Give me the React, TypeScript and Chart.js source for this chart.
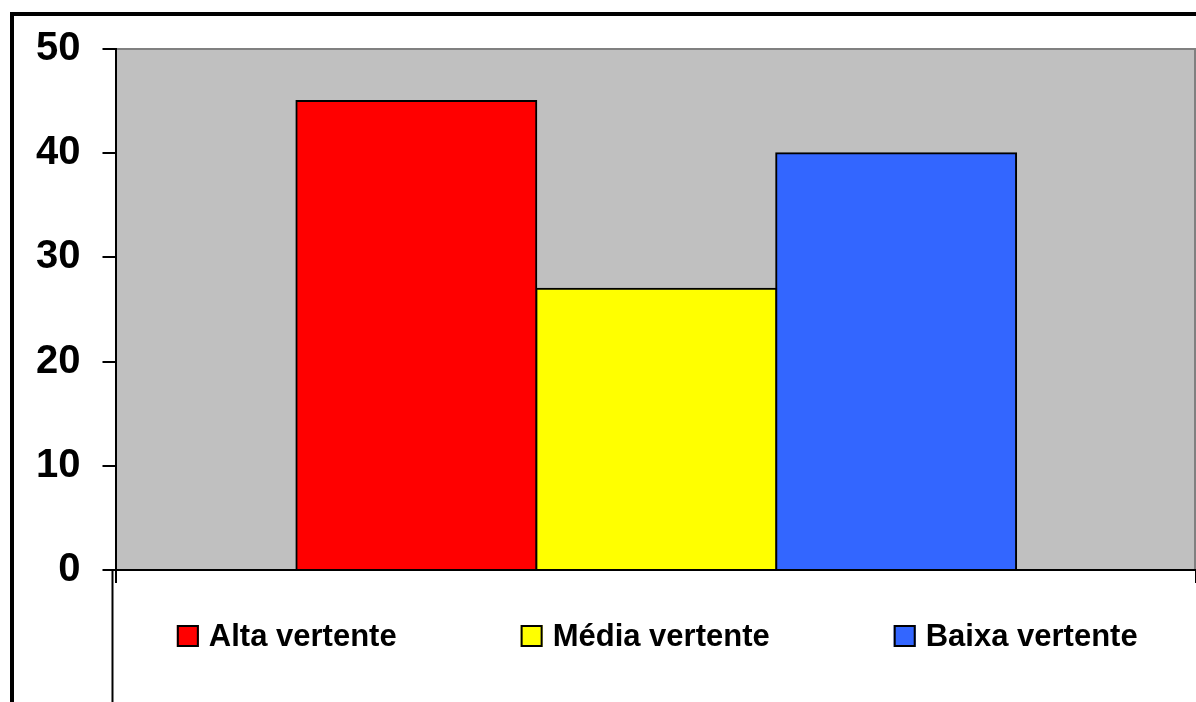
import React, { useEffect, useRef } from "react";
import { Chart, registerables } from "chart.js";

Chart.register(...registerables);

// Share of sampled area per slope position
const categories = [""];
const seriesNames = ["Alta vertente", "Média vertente", "Baixa vertente"];
const seriesValues = [[45], [27], [40]];
const seriesColors = ["#FF0000", "#FFFF00", "#3366FF"];
const yTicks = [0, 10, 20, 30, 40, 50];

const FONT = "'Liberation Sans', Arial, sans-serif";

// Grey plot background, frame of the whole figure, legend box edge
const framePlugin = {
  id: "frame",
  beforeDraw(chart: any) {
    const { ctx, chartArea: a, width, height } = chart;
    ctx.save();
    ctx.fillStyle = "#FFFFFF";
    ctx.fillRect(0, 0, width, height);
    ctx.fillStyle = "#C0C0C0";
    ctx.fillRect(a.left, a.top, a.right - a.left, a.bottom - a.top);
    ctx.strokeStyle = "#808080";
    ctx.lineWidth = 2;
    ctx.beginPath();
    ctx.moveTo(a.left, a.top);
    ctx.lineTo(a.right - 1, a.top);
    ctx.lineTo(a.right - 1, a.bottom);
    ctx.stroke();
    // outer figure frame (opens past right and bottom edges)
    ctx.strokeStyle = "#000000";
    ctx.lineWidth = 4;
    ctx.beginPath();
    ctx.moveTo(12, height + 10);
    ctx.lineTo(12, 14);
    ctx.lineTo(width + 10, 14);
    ctx.stroke();
    // legend box left edge
    ctx.lineWidth = 2;
    ctx.beginPath();
    ctx.moveTo(a.left - 4, a.bottom);
    ctx.lineTo(a.left - 4, height + 10);
    ctx.stroke();
    ctx.restore();
  },
};

// Legend row drawn below the x axis, items spaced evenly
const legendPlugin = {
  id: "bottomLegend",
  afterDraw(chart: any) {
    const { ctx, chartArea: a, width } = chart;
    const box = 22;
    const boxGap = 10;
    const itemGap = 124;
    ctx.save();
    ctx.font = `bold 31px ${FONT}`;
    ctx.textBaseline = "middle";
    const items = chart.data.datasets.map((ds: any) => ({
      label: ds.label,
      color: ds.backgroundColor,
      w: box + boxGap + ctx.measureText(ds.label).width,
    }));
    const total =
      items.reduce((s: number, it: any) => s + it.w, 0) + itemGap * (items.length - 1);
    const left = a.left - 4;
    let x = left + (width - left - total) / 2 + 3;
    const cy = a.bottom + 66;
    items.forEach((it: any) => {
      ctx.fillStyle = it.color;
      ctx.fillRect(x, cy - box / 2, box, box);
      ctx.strokeStyle = "#000000";
      ctx.lineWidth = 2;
      ctx.strokeRect(x + 1, cy - box / 2 + 1, box - 2, box - 2);
      ctx.fillStyle = "#000000";
      ctx.fillText(it.label, x + box + boxGap, cy + 1);
      x += it.w + itemGap;
    });
    ctx.restore();
  },
};

export default function App() {
  const ref = useRef<HTMLCanvasElement>(null);

  useEffect(() => {
    document.body.style.margin = "0";
    const chart = new Chart(ref.current!, {
      type: "bar",
      data: {
        labels: categories,
        datasets: seriesNames.map((name, i) => ({
          label: name,
          data: seriesValues[i],
          backgroundColor: seriesColors[i],
          borderColor: "#000000",
          borderWidth: 2,
          inflateAmount: 1,
          categoryPercentage: 0.6667,
          barPercentage: 1,
        })),
      },
      options: {
        animation: false,
        responsive: false,
        devicePixelRatio: 1,
        layout: { padding: { left: 14, top: 49, right: 0, bottom: 119 } },
        plugins: {
          legend: { display: false },
          tooltip: { enabled: false },
        },
        scales: {
          x: {
            offset: true,
            grid: {
              display: true,
              drawOnChartArea: false,
              drawTicks: true,
              tickLength: 13,
              color: "#000000",
              lineWidth: 2,
              offset: true,
            },
            border: { display: true, color: "#000000", width: 2 },
            ticks: { display: false },
          },
          y: {
            min: 0,
            max: 50,
            afterBuildTicks: (scale: any) => {
              scale.ticks = yTicks.map((v) => ({ value: v }));
            },
            ticks: {
              color: "#000000",
              padding: 22,
              font: { family: FONT, size: 40, weight: "bold" },
            },
            grid: {
              drawOnChartArea: false,
              drawTicks: true,
              tickLength: 14,
              color: "#000000",
              lineWidth: 2,
            },
            border: { display: true, color: "#000000", width: 2 },
          },
        },
      },
      plugins: [framePlugin, legendPlugin],
    });
    return () => chart.destroy();
  }, []);

  return (
    <div style={{ width: 1196, height: 702, position: "relative", overflow: "hidden" }}>
      <canvas ref={ref} width={1196} height={702} style={{ display: "block" }} />
    </div>
  );
}
